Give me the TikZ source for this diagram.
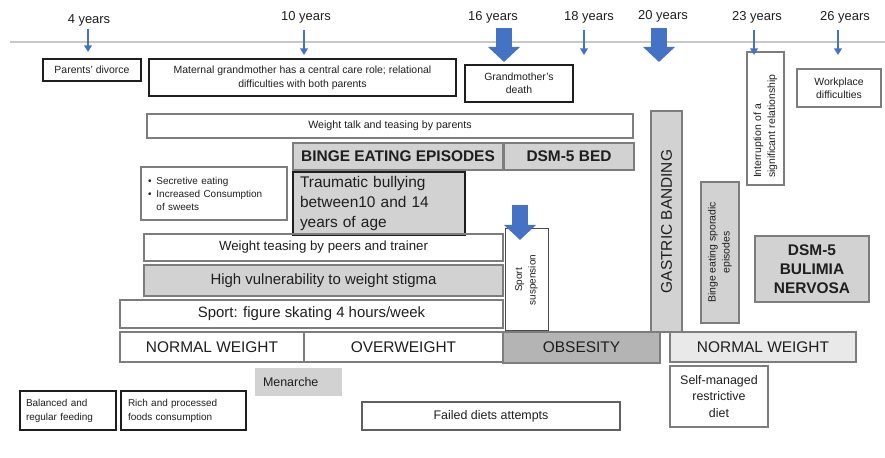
\documentclass[tikz,border=0pt]{standalone}
\usepackage{fontspec}
\setmainfont{Liberation Sans}
\usetikzlibrary{arrows.meta}

\definecolor{tlblue}{RGB}{68,114,196}
\definecolor{linegray}{RGB}{200,200,200}
\definecolor{boxgray}{RGB}{125,125,125}
\definecolor{fillgray}{RGB}{210,210,210}
\definecolor{darkfill}{RGB}{180,180,180}
\definecolor{palefill}{RGB}{233,233,233}
\definecolor{ink}{RGB}{30,30,30}

\newcommand{\fsz}[2]{\fontsize{#1}{#2}\selectfont}

\begin{document}
\begin{tikzpicture}[x = 1bp, y = -1bp,
  every node/.style = {inner sep = 0pt, outer sep = 0pt, text = ink},
  year/.style = {font = \fsz{13}{15}},
  plainbox/.style = {draw = ink, line width = 1.3bp},
  greybox/.style = {draw = boxgray, line width = 1.9bp},
  shadedbox/.style = {greybox, fill = fillgray},
  thin arrow/.style = {draw = tlblue, line width = 2bp, -{Triangle[width = 7.5bp, length = 6.5bp]}},
  big arrow/.style = {draw = tlblue, line width = 16.5bp, -{Triangle[width = 31bp, length = 15bp]}}]

\useasboundingbox (0, 0) rectangle (885, 458);

% time line
\draw [draw = linegray, line width = 2.5bp] (10, 42) -- (885, 42);

\node [year] (y4) at (89, 20) {4 years};
\node [year] (y10) at (306, 17) {10 years};
\node [year] (y16) at (493, 17) {16 years};
\node [year] (y18) at (589, 17) {18 years};
\node [year] (y20) at (663, 16) {20 years};
\node [year] (y23) at (757, 17) {23 years};
\node [year] (y26) at (845, 17) {26 years};

% events above
\node [plainbox, minimum width = 98bp, minimum height = 22bp, font = \fsz{10.5}{13}] (divorce) at (92, 70) {Parents' divorce};
\node [plainbox, minimum width = 307bp, minimum height = 37bp, align = center, font = \fsz{10.5}{14}] (grandma) at (302.5, 77.5) {Maternal grandmother has a central care role; relational\\difficulties with both parents};
\node [plainbox, minimum width = 108bp, minimum height = 37bp, align = center, font = \fsz{10.5}{13}] (death) at (519, 83.5) {Grandmother's\\death};
\node [draw = boxgray, line width = 1.4bp, minimum width = 84bp, minimum height = 38bp, align = center, font = \fsz{10.5}{13}] (workplace) at (839, 88) {Workplace\\difficulties};
\node [draw = boxgray, line width = 1.2bp, rotate = 90, minimum height = 37bp, inner xsep = 7bp, text width = 119bp, align = left, font = \fsz{10.5}{14}] (interrupt) at (765.5, 118.5) {Interruption of a\\significant relationship};

% bars
\node [greybox, minimum width = 486bp, minimum height = 24bp, font = \fsz{10.7}{13}] (talk) at (390, 126) {Weight talk and teasing by parents};
\node [shadedbox, minimum width = 210bp, minimum height = 27bp, font = \fsz{15.5}{18}\bfseries] (binge) at (398, 156.5) {BINGE EATING EPISODES};
\node [shadedbox, minimum width = 130bp, minimum height = 27bp, font = \fsz{15.5}{18}\bfseries] (bed) at (569, 156.5) {DSM-5 BED};
\node [greybox, minimum height = 53bp, inner xsep = 7bp, text width = 132bp, align = left, font = \fsz{10}{13}] (secretive) at (214, 193.5) {\textbullet\hspace{5bp}Secretive eating\\\textbullet\hspace{5bp}Increased Consumption\\\hphantom{\textbullet}\hspace{5bp}of sweets};
\node [draw = ink, line width = 2.3bp, fill = fillgray, minimum height = 63bp, inner xsep = 7bp, text width = 158bp, align = left, font = \fsz{15.5}{20.5}] (bully) at (379, 203.5) {Traumatic bullying\\between10 and 14\\years of age};
\node [greybox, minimum width = 359bp, minimum height = 27bp, font = \fsz{13.3}{16}] (peers) at (323.5, 247.5) {Weight teasing by peers and trainer};
\node [shadedbox, minimum width = 359bp, minimum height = 31bp, font = \fsz{15}{18}] (vuln) at (323.5, 280.5) {High vulnerability to weight stigma};
\node [greybox, minimum width = 383bp, minimum height = 28bp, font = \fsz{15}{18}] (sport) at (311.5, 314) {Sport: figure skating 4 hours/week};

% weight
\node [greybox, minimum width = 184bp, minimum height = 30bp, font = \fsz{15.5}{18}] (nw0) at (212, 347) {NORMAL WEIGHT};
\node [greybox, minimum width = 199bp, minimum height = 30bp, font = \fsz{15.5}{18}] (ow) at (403.5, 347) {OVERWEIGHT};
\node [greybox, fill = darkfill, minimum width = 157bp, minimum height = 31bp, font = \fsz{15.5}{18}] (obes) at (581.5, 347.5) {OBSESITY};
\node [greybox, fill = palefill, minimum width = 186bp, minimum height = 30bp, font = \fsz{15.5}{18}] (nw1) at (763, 347) {NORMAL WEIGHT};

% right part
\node [draw = ink!80, line width = 1bp, fill = white, rotate = 90, minimum width = 102bp, minimum height = 43bp, align = center, font = \fsz{10}{13.5}] (suspension) at (526.5, 280) {Sport\\suspension};
\node [shadedbox, rotate = 90, minimum width = 221bp, minimum height = 31bp, font = \fsz{15.5}{18}] (banding) at (666.5, 221.5) {GASTRIC BANDING};
\node [shadedbox, rotate = 90, minimum width = 141bp, minimum height = 38bp, align = center, font = \fsz{10.5}{14}] (sporadic) at (720, 252.5) {Binge eating sporadic\\episodes};
\node [shadedbox, minimum width = 114bp, minimum height = 66bp, align = center, font = \fsz{15.5}{19}\bfseries] (bn) at (812, 269) {DSM-5\\BULIMIA\\NERVOSA};

% bottom
\node [greybox, minimum width = 98bp, minimum height = 61bp, align = center, font = \fsz{12.5}{16.5}] (selfdiet) at (719, 396.5) {Self-managed\\restrictive\\diet};
\node [plainbox, minimum height = 39bp, inner xsep = 6bp, text width = 84bp, align = left, font = \fsz{10}{14}] (balanced) at (68, 410.5) {Balanced and\\regular feeding};
\node [plainbox, minimum height = 39bp, inner xsep = 7bp, text width = 111bp, align = left, font = \fsz{10}{14}] (rich) at (183.5, 410.5) {Rich and processed\\foods consumption};
\node [fill = fillgray, minimum height = 28bp, inner xsep = 8bp, text width = 71bp, align = left, font = \fsz{12.5}{15}] (menarche) at (298.5, 382) {Menarche};
\node [draw = ink!70, line width = 1.5bp, minimum width = 258bp, minimum height = 28bp, font = \fsz{12.5}{15}] (failed) at (491, 416) {Failed diets attempts};

% arrows
\coordinate (tip4) at (88, 52);
\coordinate (tip10) at (304, 55);
\coordinate (tip16) at (504, 62);
\coordinate (tip18) at (584, 55);
\coordinate (tip20) at (659, 62);
\coordinate (tip23) at (754, 55);
\coordinate (tip26) at (838, 55);
\draw [thin arrow, shorten <= 3.5bp] (tip4 |- y4.south) -- (tip4);
\draw [thin arrow, shorten <= 7bp] (tip10 |- y10.south) -- (tip10);
\draw [big arrow, shorten <= 5bp] (tip16 |- y16.south) -- (tip16);
\draw [thin arrow, shorten <= 7bp] (tip18 |- y18.south) -- (tip18);
\draw [big arrow, shorten <= 6bp] (tip20 |- y20.south) -- (tip20);
\draw [thin arrow, shorten <= 7bp] (tip23 |- y23.south) -- (tip23);
\draw [thin arrow, shorten <= 7bp] (tip26 |- y26.south) -- (tip26);

\coordinate (stopped) at (520, 205);
\coordinate (stopped tip) at (520, 240);
\draw [big arrow] (stopped) -- (stopped tip);
\end{tikzpicture}
\end{document}
